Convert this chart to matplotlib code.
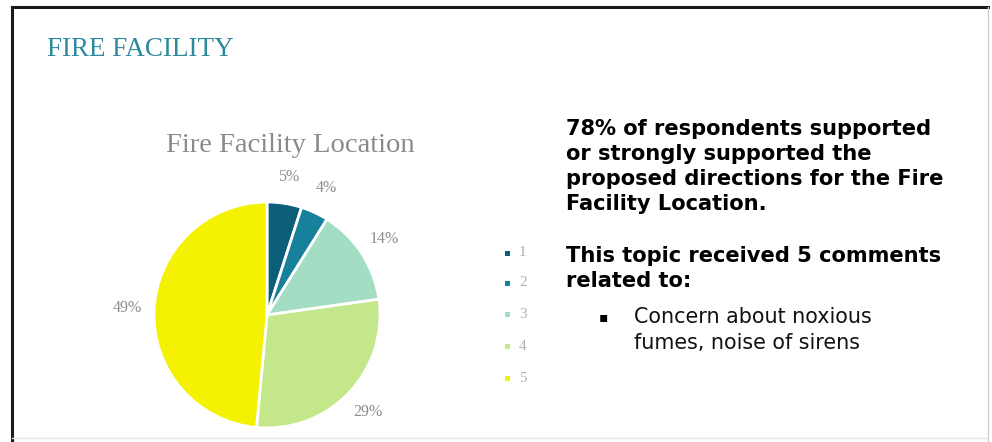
import matplotlib.pyplot as plt
from matplotlib.patches import Rectangle
import numpy as np

# survey answers for the fire facility location (1 = strongly oppose ... 5 = strongly support)
categories = ["1", "2", "3", "4", "5"]
shares = [5, 4, 14, 29, 49]
pct_labels = ["5%", "4%", "14%", "29%", "49%"]
colors = ["#0d5f79", "#17809b", "#a3ddc3", "#c4e78c", "#f4f200"]

heading = "FIRE FACILITY"
chart_title = "Fire Facility Location"
summary = "78% of respondents supported\nor strongly supported the\nproposed directions for the Fire\nFacility Location."
comments_head = "This topic received 5 comments\nrelated to:"
comments = ["Concern about noxious\nfumes, noise of sirens"]

W, H = 992, 442
fig = plt.figure(figsize=(W / 100, H / 100), dpi=100)
fig.patch.set_facecolor("white")

# overlay axes in pixel coordinates for the slide texts and frame
bg = fig.add_axes([0, 0, 1, 1])
bg.set_xlim(0, W)
bg.set_ylim(H, 0)
bg.axis("off")

# slide frame
bg.plot([12, 12], [7, H], color="#1a1a1a", lw=2.2)
bg.plot([12, 988], [7, 7], color="#1a1a1a", lw=2.2)
bg.plot([988, 988], [7, H], color="#d0d0d0", lw=1)
bg.plot([12, 988], [438, 438], color="#e4e4e4", lw=1)

bg.text(47, 50, heading, color="#2b8a9c", fontsize=19.5, family="Liberation Serif",
        va="center", ha="left")
bg.text(290, 145, chart_title, color="#8a8a8a", fontsize=20.5, family="Liberation Serif",
        va="center", ha="center")

bg.text(566, 119, summary, fontsize=15.1, fontweight="bold", family="DejaVu Sans",
        va="top", ha="left", linespacing=1.32, color="black")
bg.text(566, 246, comments_head, fontsize=15.1, fontweight="bold", family="DejaVu Sans",
        va="top", ha="left", linespacing=1.32, color="black")
for c in comments:
    bg.text(603, 317, "\u25aa", fontsize=10, va="center", ha="center", color="black")
    bg.text(634, 307, c, fontsize=14.9, family="DejaVu Sans", va="top", ha="left",
            linespacing=1.36, color="#111111")

# legend
leg_y = [253, 283, 314, 346, 378]
for cat, col, y in zip(categories, colors, leg_y):
    bg.add_patch(Rectangle((504.5, y - 2.5), 5, 5, color=col, lw=0))
    bg.text(519, y, cat, fontsize=11, family="Liberation Serif", color="#b0b0b0",
            va="center", ha="left")

# pie, centre (267, 315), radius 113 px
cx, cy, r = 267, 315, 113
ax = fig.add_axes([(cx - r) / W, (H - cy - r) / H, 2 * r / W, 2 * r / H])
wedges, _ = ax.pie(shares, colors=colors, startangle=90, counterclock=False,
                   wedgeprops=dict(edgecolor="white", linewidth=2))
ax.set_xlim(-1, 1)
ax.set_ylim(-1, 1)
ax.set_aspect("equal")
ax.axis("off")

for w, lab in zip(wedges, pct_labels):
    th = np.deg2rad((w.theta1 + w.theta2) / 2)
    ax.text(1.24 * np.cos(th), 1.24 * np.sin(th), lab, ha="center", va="center",
            fontsize=11.5, family="Liberation Serif", color="#8c8c8c", clip_on=False)

fig.savefig("out.png", dpi=100)
